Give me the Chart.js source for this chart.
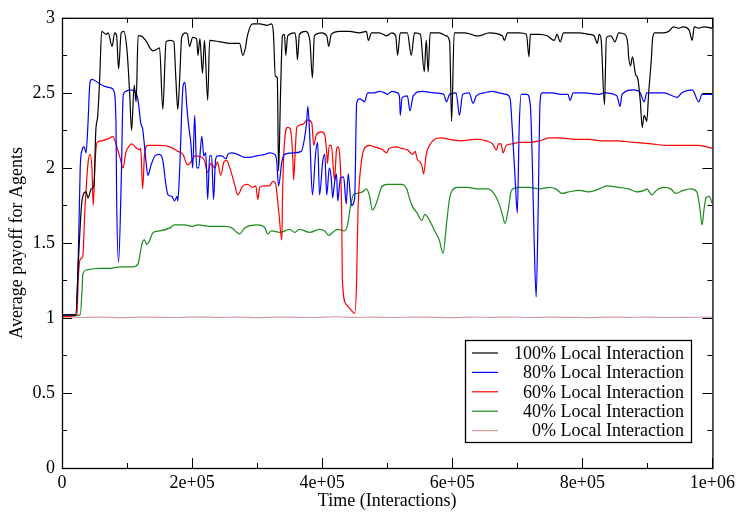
<!DOCTYPE html>
<html>
<head>
<meta charset="utf-8">
<script src="https://cdn.jsdelivr.net/npm/chart.js@4.4.1/dist/chart.umd.min.js"></script>
<style>
  body { margin: 0; background: #fff; }
  canvas { display: block; }
</style>
</head>
<body>
<canvas id="payoffChart" width="739" height="512"></canvas>
<script>
// x values are in thousands of interactions
const seriesLabels = ["100% Local Interaction", "80% Local Interaction", "60% Local Interaction", "40% Local Interaction", "0% Local Interaction"];
const xTickLabels = ["0", "2e+05", "4e+05", "6e+05", "8e+05", "1e+06"];
const yTickLabels = ["0", "0.5", "1", "1.5", "2", "2.5", "3"];

const blackK = [0,21,26,31,37,40,45,49,52,55,58,61,68,71,77,81,84,87,91,95,100,104,107,111,114,117,121,130,135,140,146,150,155,160,166,172,175,178,181,184,190,193,196,201,207,209,212,216,219,224,227,243,258,273,278,282,285,293,304,316,322,325,328,331,333,336,339,342,344,347,358,360,362,365,374,381,385,388,399,407,410,414,427,442,457,468,471,476,488,499,507,513,516,520,531,537,542,551,557,560,563,566,580,591,596,599,603,619,629,637,641,657,677,680,685,703,714,718,720,734,746,757,761,766,771,787,795,810,818,823,826,829,834,837,844,850,856,865,870,871,874,877,882,885,889,892,895,898,899,902,906,908,911,925,933,940,948,955,964,969,972,979,987,1000];
const blackY = [1.02,1.02,1.45,1.79,1.84,1.80,1.86,1.88,2.25,2.35,2.60,2.91,2.89,2.90,2.81,2.90,2.88,2.66,2.90,2.91,2.78,2.50,2.25,2.55,2.44,2.88,2.88,2.84,2.80,2.78,2.79,2.80,2.39,2.84,2.85,2.84,2.60,2.39,2.60,2.87,2.90,2.89,2.81,2.87,2.86,2.75,2.86,2.63,2.85,2.45,2.85,2.84,2.83,2.83,2.75,2.80,2.88,2.96,2.96,2.95,2.96,2.90,2.61,2.60,1.98,2.50,2.88,2.89,2.75,2.88,2.90,2.85,2.72,2.89,2.91,2.85,2.60,2.88,2.90,2.88,2.81,2.89,2.91,2.91,2.90,2.91,2.85,2.90,2.90,2.88,2.90,2.88,2.75,2.90,2.90,2.75,2.90,2.89,2.64,2.85,2.64,2.90,2.90,2.88,2.84,2.31,2.90,2.90,2.89,2.88,2.88,2.90,2.88,2.85,2.90,2.90,2.89,2.74,2.89,2.89,2.88,2.85,2.89,2.84,2.90,2.90,2.90,2.89,2.88,2.83,2.89,2.85,2.42,2.87,2.88,2.84,2.90,2.89,2.82,2.75,2.68,2.74,2.62,2.60,2.45,2.27,2.35,2.32,2.31,2.50,2.72,2.86,2.90,2.90,2.91,2.94,2.93,2.94,2.92,2.85,2.94,2.93,2.94,2.93];

const blueK = [0,21,25,28,31,34,37,40,43,46,58,68,77,80,83,84,87,91,94,98,104,112,117,121,124,129,132,137,143,150,155,160,163,169,173,177,178,181,186,189,192,195,198,201,204,207,210,215,218,221,224,227,230,233,236,239,246,252,255,261,270,281,289,299,312,319,327,330,333,338,342,355,368,373,376,378,381,385,390,393,396,401,404,407,411,414,416,419,422,424,428,433,437,440,445,450,453,457,462,465,470,480,488,496,500,507,516,519,520,523,531,535,540,554,572,587,591,596,606,611,616,626,632,637,649,662,672,683,689,692,697,700,703,706,715,720,723,726,729,732,735,738,754,767,778,781,786,803,826,834,853,858,861,879,889,895,899,925,946,953,969,979,984,1000];
const blueY = [1.02,1.02,1.40,2.00,2.12,2.14,2.10,2.30,2.57,2.59,2.56,2.54,2.53,2.51,2.30,1.80,1.37,1.90,2.48,2.51,2.52,2.51,2.45,2.30,2.26,2.05,1.95,2.02,2.08,2.09,2.05,1.88,1.82,1.81,1.78,1.81,1.78,2.00,2.54,2.57,2.40,2.27,2.17,2.00,2.35,2.00,2.00,2.21,2.08,2.10,1.79,2.08,2.08,1.79,2.05,2.08,2.08,2.06,2.09,2.10,2.09,2.07,2.07,2.08,2.09,2.10,2.09,2.05,1.88,2.04,2.09,2.10,2.11,2.20,2.30,2.41,2.20,1.82,2.10,2.17,1.82,2.05,2.09,1.82,2.00,1.93,1.80,1.90,1.96,1.78,1.93,1.94,1.76,1.96,1.75,1.80,2.43,2.46,2.45,2.44,2.50,2.50,2.51,2.50,2.49,2.51,2.50,2.47,2.35,2.47,2.48,2.38,2.48,2.51,2.50,2.49,2.44,2.49,2.50,2.35,2.49,2.50,2.43,2.48,2.50,2.51,2.50,2.49,2.46,2.28,1.90,1.70,2.28,2.49,2.49,2.42,2.05,1.50,1.14,1.70,2.44,2.50,2.50,2.49,2.49,2.45,2.50,2.50,2.49,2.50,2.48,2.41,2.49,2.52,2.50,2.44,2.50,2.50,2.47,2.50,2.52,2.44,2.49,2.49];

const redK = [0,23,25,28,32,35,40,43,46,48,51,54,61,68,74,78,83,89,94,98,104,107,115,120,121,124,127,132,150,166,178,186,193,200,204,215,219,224,229,235,239,244,249,253,258,266,270,278,285,293,298,301,304,312,319,324,328,333,338,339,342,347,351,355,356,359,361,370,378,384,387,391,399,404,407,408,411,414,419,422,424,427,430,431,437,445,450,453,455,460,465,473,480,488,493,499,503,514,522,531,539,543,546,553,556,560,565,573,583,596,614,634,641,652,662,668,671,675,678,683,692,703,718,734,749,764,790,810,829,853,879,906,930,956,979,1000];
const redY = [1.01,1.02,1.26,1.39,1.41,1.70,2.03,2.09,2.00,1.75,2.05,2.17,2.18,2.19,2.20,2.21,2.16,2.07,2.00,2.10,2.15,2.16,2.13,2.12,2.13,1.86,2.10,2.15,2.15,2.14,2.11,2.09,2.02,2.05,2.08,2.07,2.05,1.97,2.03,2.00,2.04,1.95,2.04,2.05,2.00,1.88,1.82,1.88,1.89,1.87,1.88,1.79,1.87,1.88,1.88,1.91,1.90,1.72,1.52,1.80,2.17,2.27,2.26,2.05,1.92,2.15,2.27,2.29,2.32,2.30,2.15,2.22,2.24,2.22,2.10,2.03,2.15,2.15,1.92,2.12,2.14,2.08,1.70,1.26,1.09,1.05,1.03,1.25,1.70,2.03,2.13,2.15,2.14,2.13,2.12,2.10,2.13,2.14,2.13,2.12,2.09,2.11,2.06,2.02,1.96,2.09,2.15,2.19,2.20,2.19,2.18,2.19,2.19,2.18,2.16,2.12,2.16,2.16,2.10,2.15,2.16,2.17,2.17,2.18,2.20,2.20,2.19,2.19,2.18,2.18,2.17,2.16,2.15,2.15,2.15,2.13];

const greenK = [0,28,31,32,38,58,74,89,104,109,117,121,124,127,130,135,140,150,166,173,189,200,209,227,250,261,269,273,281,301,312,316,322,335,350,358,365,381,396,404,410,416,424,434,439,443,448,454,462,468,473,477,482,488,491,500,511,522,530,534,539,546,553,558,565,573,580,586,591,596,600,608,623,638,654,664,672,677,681,686,691,703,718,734,749,759,769,779,795,810,826,838,856,871,884,895,899,907,914,925,936,944,955,967,976,981,984,987,990,995,1000];
const greenY = [1.01,1.02,1.20,1.29,1.32,1.33,1.33,1.34,1.34,1.34,1.36,1.45,1.51,1.52,1.49,1.52,1.57,1.58,1.60,1.62,1.62,1.61,1.62,1.61,1.61,1.60,1.57,1.56,1.60,1.62,1.60,1.56,1.58,1.57,1.59,1.57,1.59,1.57,1.59,1.58,1.55,1.57,1.59,1.58,1.62,1.73,1.82,1.83,1.84,1.86,1.81,1.72,1.75,1.83,1.87,1.89,1.89,1.89,1.86,1.80,1.74,1.70,1.65,1.69,1.65,1.58,1.52,1.43,1.62,1.80,1.85,1.87,1.87,1.86,1.86,1.83,1.76,1.69,1.63,1.72,1.85,1.87,1.87,1.86,1.87,1.86,1.83,1.84,1.85,1.84,1.86,1.88,1.87,1.86,1.84,1.85,1.86,1.82,1.85,1.87,1.86,1.83,1.85,1.86,1.84,1.72,1.62,1.72,1.80,1.81,1.76];

const pinkK = [0,30,60,90,120,150,180,210,240,270,300,330,360,390,420,450,480,510,540,570,600,630,660,690,720,750,780,810,840,870,900,930,960,1000];
const pinkY = [1.000,1.003,1.005,1.002,1.006,1.004,1.003,1.007,1.004,1.005,1.002,1.006,1.004,1.003,1.008,1.004,1.005,1.003,1.006,1.004,1.002,1.005,1.004,1.006,1.003,1.005,1.004,1.002,1.006,1.004,1.005,1.003,1.004,1.005];

const seriesColors = ["#000000", "#0000ff", "#ff0000", "#1a8c1a", "#d0a0a0"];
const seriesK = [blackK, blueK, redK, greenK, pinkK];
const seriesY = [blackY, blueY, redY, greenY, pinkY];

const FONT = "'Liberation Serif', 'Times New Roman', serif";

const datasets = seriesLabels.map((label, i) => ({
    label: label,
    data: seriesK[i].map((k, j) => ({ x: k * 1000, y: seriesY[i][j] })),
    borderColor: seriesColors[i],
    borderWidth: 1.2,
    pointRadius: 0,
    cubicInterpolationMode: "monotone",
    fill: false,
    order: i
}));

// ticks pointing inward on all four sides + frame
const innerTicks = {
    id: "innerTicks",
    afterDatasetsDraw(chart) {
        const { ctx, chartArea: a, scales: { x, y } } = chart;
        ctx.save();
        ctx.strokeStyle = "#000";
        ctx.lineWidth = 1;
        ctx.beginPath();
        for (let v = 0; v <= 1e6; v += 1e5) {
            const px = Math.round(x.getPixelForValue(v)) + 0.5;
            const len = (v % 2e5 === 0) ? 10 : 5;
            ctx.moveTo(px, a.bottom); ctx.lineTo(px, a.bottom - len);
            ctx.moveTo(px, a.top); ctx.lineTo(px, a.top + len);
        }
        for (let i = 0; i <= 12; i++) {
            const py = Math.round(y.getPixelForValue(i * 0.25)) + 0.5;
            const len = (i % 2 === 0) ? 10 : 5;
            ctx.moveTo(a.left, py); ctx.lineTo(a.left + len, py);
            ctx.moveTo(a.right, py); ctx.lineTo(a.right - len, py);
        }
        ctx.stroke();
        ctx.lineWidth = 1.3;
        ctx.strokeRect(a.left + 0.5, a.top + 0.5, a.right - a.left, a.bottom - a.top);
        ctx.restore();
    }
};

// boxed legend, text right aligned like xmgrace
const boxLegend = {
    id: "boxLegend",
    afterDraw(chart) {
        const ctx = chart.ctx;
        const bx = 465, by = 340, bw = 226, bh = 102;
        ctx.save();
        ctx.fillStyle = "#fff";
        ctx.fillRect(bx, by, bw, bh);
        ctx.strokeStyle = "#000";
        ctx.lineWidth = 1.3;
        ctx.strokeRect(bx + 0.5, by + 0.5, bw, bh);
        ctx.font = "18px " + FONT;
        ctx.textAlign = "right";
        ctx.textBaseline = "middle";
        chart.data.datasets.forEach((d, i) => {
            const ry = by + 13 + i * 19.4;
            ctx.strokeStyle = d.borderColor;
            ctx.lineWidth = 1.2;
            ctx.beginPath();
            ctx.moveTo(472, ry);
            ctx.lineTo(498, ry);
            ctx.stroke();
            ctx.fillStyle = "#000";
            ctx.fillText(d.label, 684, ry + 1);
        });
        ctx.restore();
    }
};

new Chart(document.getElementById("payoffChart"), {
    type: "line",
    data: { datasets: datasets },
    options: {
        responsive: false,
        animation: false,
        layout: { padding: { top: 14, right: 26, left: 0, bottom: 0 } },
        plugins: {
            legend: { display: false },
            tooltip: { enabled: false }
        },
        scales: {
            x: {
                type: "linear",
                min: 0,
                max: 1e6,
                afterFit: s => { s.height = 44; },
                grid: { display: false, drawTicks: false },
                border: { display: false },
                ticks: {
                    stepSize: 2e5,
                    autoSkip: false,
                    maxRotation: 0,
                    padding: 4,
                    color: "#000",
                    font: { family: FONT, size: 18 },
                    callback: v => xTickLabels[Math.round(v / 2e5)]
                },
                title: {
                    display: true,
                    text: "Time (Interactions)",
                    color: "#000",
                    font: { family: FONT, size: 18 },
                    padding: { top: 0, bottom: 0 }
                }
            },
            y: {
                min: 0,
                max: 3,
                afterFit: s => { s.width = 62; },
                grid: { display: false, drawTicks: false },
                border: { display: false },
                ticks: {
                    stepSize: 0.5,
                    padding: 7,
                    color: "#000",
                    font: { family: FONT, size: 18 },
                    callback: v => yTickLabels[Math.round(v / 0.5)]
                },
                title: {
                    display: true,
                    text: "Average payoff for Agents",
                    color: "#000",
                    font: { family: FONT, size: 18 },
                    padding: { top: 6, bottom: 0 }
                }
            }
        }
    },
    plugins: [innerTicks, boxLegend]
});
</script>
</body>
</html>
